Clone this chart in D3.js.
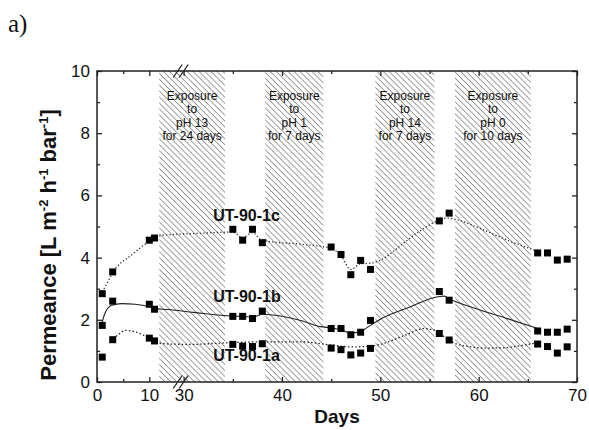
<!DOCTYPE html>
<html lang="en">
<head>
<meta charset="UTF-8">
<title>Permeance vs days</title>
<script src="https://d3js.org/d3.v7.min.js"></script>
<style>
    body { margin: 0; background: #fff; }
    text { font-family: "Liberation Sans", Arial, sans-serif; fill: #111; }
</style>
</head>
<body>
<div id="chart"></div>
<script>
// measured days and permeance values
var days = [1, 3, 10, 11, 35, 36, 37, 38, 45, 46, 47, 48, 49, 56, 57, 66, 67, 68, 69];
var ut1c = [2.84, 3.54, 4.56, 4.63, 4.91, 4.56, 4.91, 4.48, 4.34, 4.10, 3.45, 3.91, 3.62, 5.18, 5.43, 4.15, 4.15, 3.92, 3.95];
var ut1b = [1.82, 2.60, 2.50, 2.34, 2.11, 2.11, 2.04, 2.28, 1.72, 1.72, 1.52, 1.60, 1.98, 2.91, 2.63, 1.64, 1.60, 1.60, 1.70];
var ut1a = [0.80, 1.36, 1.41, 1.32, 1.21, 1.15, 1.14, 1.23, 1.09, 1.04, 0.87, 0.93, 1.08, 1.56, 1.35, 1.22, 1.14, 0.93, 1.13];

// smoothed guide curves
var fit1cDays = [1, 2, 3, 6.5, 10, 12, 14, 31, 33.7, 35, 36, 37, 38, 41.9, 45, 46, 47, 48, 49, 50, 52.5, 54, 55.6, 56.8, 57.5, 60.2, 63, 65.3, 66];
var fit1c = [2.9, 3.2, 3.52, 4.07, 4.52, 4.7, 4.74, 4.77, 4.81, 4.82, 4.64, 4.8, 4.55, 4.43, 4.3, 4.05, 3.62, 3.8, 3.82, 3.92, 4.5, 4.85, 5.15, 5.27, 5.24, 4.93, 4.55, 4.28, 4.2];
var fit1bDays = [1, 1.5, 2.8, 4.7, 7.3, 9.8, 11, 13.6, 31, 35, 36, 37, 38, 41.9, 43.9, 45, 46, 47, 48, 49, 50, 53, 56, 56.5, 57, 60, 63, 66];
var fit1b = [1.92, 2.2, 2.47, 2.52, 2.5, 2.43, 2.36, 2.33, 2.24, 2.12, 2.11, 2.08, 2.18, 1.98, 1.78, 1.74, 1.68, 1.57, 1.63, 1.82, 2.02, 2.41, 2.75, 2.76, 2.68, 2.33, 2.03, 1.72];
var fit1aDays = [2.6, 3.7, 5.5, 7.5, 9.6, 12, 14, 31, 33.7, 38, 41.9, 45, 47, 49, 50, 52.5, 54.5, 55.6, 56.5, 57.5, 59, 60.5, 62.5, 64.5, 66];
var fit1a = [1.3, 1.47, 1.66, 1.6, 1.45, 1.25, 1.22, 1.21, 1.25, 1.29, 1.29, 1.19, 1.13, 1.15, 1.21, 1.5, 1.72, 1.65, 1.45, 1.25, 1.14, 1.09, 1.1, 1.18, 1.27];

// exposure windows
var expStart = [11.9, 38.3, 49.5, 57.6];
var expEnd = [34.2, 44.2, 55.5, 65.3];
var expText = [
    ["Exposure", "to", "pH 13", "for 24 days"],
    ["Exposure", "to", "pH 1", "for 7 days"],
    ["Exposure", "to", "pH 14", "for 7 days"],
    ["Exposure", "to", "pH 0", "for 10 days"]
];

var xTicks = [0, 10, 30, 40, 50, 60, 70];
var xMinor = [5, 35, 45, 55, 65];
var yTicks = [0, 2, 4, 6, 8, 10];
var yMinor = [1, 3, 5, 7, 9];

var W = 589, H = 430;
var margin = { top: 71, right: 12, bottom: 48, left: 97 };
var width = W - margin.left - margin.right;
var height = H - margin.top - margin.bottom;

var svg = d3.select("#chart").append("svg")
    .attr("width", W)
    .attr("height", H);

var defs = svg.append("defs");
defs.append("pattern")
    .attr("id", "hatch")
    .attr("patternUnits", "userSpaceOnUse")
    .attr("width", 4.2)
    .attr("height", 4.2)
    .attr("patternTransform", "rotate(-45)")
    .append("line")
    .attr("x1", 0).attr("y1", 0).attr("x2", 0).attr("y2", 4.2)
    .attr("stroke", "#4a4a4a")
    .attr("stroke-width", 1.05);

// broken axis: 0-16 compressed, then 29.7-70
var x = d3.scaleLinear()
    .domain([0, 16, 29.7, 70])
    .range([0, 83.7, 83.7, width]);
var y = d3.scaleLinear().domain([0, 10]).range([height, 0]);

var g = svg.append("g").attr("transform", "translate(" + margin.left + "," + margin.top + ")");

// hatched exposure bands
expStart.forEach(function(s, i) {
    g.append("rect")
        .attr("x", x(s))
        .attr("y", 0)
        .attr("width", x(expEnd[i]) - x(s))
        .attr("height", height)
        .attr("fill", "url(#hatch)");

    var cx = (x(s) + x(expEnd[i])) / 2;
    expText[i].forEach(function(line, j) {
        g.append("text")
            .attr("x", cx)
            .attr("y", 28.5 + j * 13.5)
            .attr("text-anchor", "middle")
            .style("font-size", "12px")
            .text(line);
    });
});

// fitted curves
function curve(xs, ys) {
    return d3.line()
        .x(function(d, i) { return x(xs[i]); })
        .y(function(d) { return y(d); })
        .curve(d3.curveMonotoneX)(ys);
}

g.append("path").attr("d", curve(fit1cDays, fit1c))
    .attr("fill", "none").attr("stroke", "#222").attr("stroke-width", 1.3)
    .attr("stroke-dasharray", "1.2,2.2");
g.append("path").attr("d", curve(fit1bDays, fit1b))
    .attr("fill", "none").attr("stroke", "#222").attr("stroke-width", 1.1);
g.append("path").attr("d", curve(fit1aDays, fit1a))
    .attr("fill", "none").attr("stroke", "#222").attr("stroke-width", 1.3)
    .attr("stroke-dasharray", "1.5,2.2");

// square markers
var sq = 7;
[ut1c, ut1b, ut1a].forEach(function(vals) {
    g.selectAll(null)
        .data(vals)
        .enter().append("rect")
        .attr("x", function(d, i) { return x(days[i]) - sq / 2; })
        .attr("y", function(d) { return y(d) - sq / 2; })
        .attr("width", sq)
        .attr("height", sq)
        .attr("fill", "#000");
});

// series labels
g.append("text").attr("x", x(33)).attr("y", y(5.18)).style("font-size", "16px").style("font-weight", "bold").text("UT-90-1c");
g.append("text").attr("x", x(33)).attr("y", y(2.56)).style("font-size", "16px").style("font-weight", "bold").text("UT-90-1b");
g.append("text").attr("x", x(33)).attr("y", y(0.68)).style("font-size", "16px").style("font-weight", "bold").text("UT-90-1a");

// axes (ticks inward)
var axisColor = "#222";
var xb = g.append("g").attr("transform", "translate(0," + height + ")")
    .call(d3.axisBottom(x).tickValues(xTicks).tickSize(-5).tickSizeOuter(0).tickPadding(7));
var xbm = g.append("g").attr("transform", "translate(0," + height + ")")
    .call(d3.axisBottom(x).tickValues(xMinor).tickSize(-3).tickSizeOuter(0).tickFormat(""));
var xt = g.append("g")
    .call(d3.axisTop(x).tickValues(xTicks).tickSize(-5).tickSizeOuter(0).tickFormat(""));
var xtm = g.append("g")
    .call(d3.axisTop(x).tickValues(xMinor).tickSize(-3).tickSizeOuter(0).tickFormat(""));
var yl = g.append("g")
    .call(d3.axisLeft(y).tickValues(yTicks).tickSize(-5).tickSizeOuter(0).tickPadding(7));
var ylm = g.append("g")
    .call(d3.axisLeft(y).tickValues(yMinor).tickSize(-3).tickSizeOuter(0).tickFormat(""));
var yr = g.append("g").attr("transform", "translate(" + width + ",0)")
    .call(d3.axisRight(y).tickValues(yTicks).tickSize(-5).tickSizeOuter(0).tickFormat(""));
var yrm = g.append("g").attr("transform", "translate(" + width + ",0)")
    .call(d3.axisRight(y).tickValues(yMinor).tickSize(-3).tickSizeOuter(0).tickFormat(""));

[xb, xbm, xt, xtm, yl, ylm, yr, yrm].forEach(function(a) {
    a.select(".domain").remove();
    a.selectAll("line").attr("stroke", axisColor).attr("stroke-width", 1.3);
    a.selectAll("text").style("font-size", "17px").style("font-family", "'Liberation Sans', Arial, sans-serif").attr("fill", "#111");
});

g.append("rect")
    .attr("x", 0).attr("y", 0)
    .attr("width", width).attr("height", height)
    .attr("fill", "none")
    .attr("stroke", axisColor)
    .attr("stroke-width", 1.5);

// break marks
var bx = x(16);
[0, height].forEach(function(yy) {
    [-3, 3].forEach(function(off) {
        g.append("line")
            .attr("x1", bx + off - 4.5).attr("y1", yy + 6.5)
            .attr("x2", bx + off + 4.5).attr("y2", yy - 6.5)
            .attr("stroke", "#222").attr("stroke-width", 1.3);
    });
});

// axis titles
svg.append("text")
    .attr("x", margin.left + width / 2)
    .attr("y", 423)
    .attr("text-anchor", "middle")
    .style("font-size", "19px")
    .style("font-weight", "bold")
    .text("Days");

var ylab = svg.append("text")
    .attr("transform", "translate(56,245) rotate(-90)")
    .attr("text-anchor", "middle")
    .style("font-size", "22px")
    .style("font-weight", "bold");
ylab.append("tspan").text("Permeance [L m");
ylab.append("tspan").attr("dy", -8).style("font-size", "13px").text("-2");
ylab.append("tspan").attr("dy", 8).text(" h");
ylab.append("tspan").attr("dy", -8).style("font-size", "13px").text("-1");
ylab.append("tspan").attr("dy", 8).text(" bar");
ylab.append("tspan").attr("dy", -8).style("font-size", "13px").text("-1");
ylab.append("tspan").attr("dy", 8).text("]");

svg.append("text")
    .attr("x", 8)
    .attr("y", 32)
    .style("font-family", "'Liberation Serif', 'Times New Roman', serif")
    .style("font-size", "25px")
    .text("a)");
</script>
</body>
</html>
